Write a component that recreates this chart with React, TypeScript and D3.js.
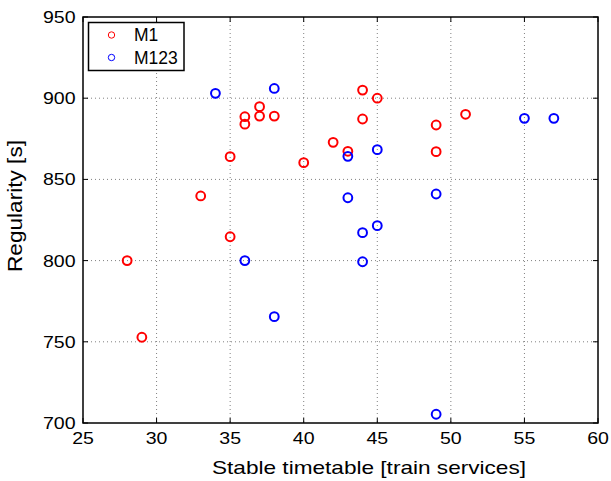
import React from "react";
import * as d3 from "d3";

const m1X = [28, 29, 33, 35, 35, 36, 36, 37, 37, 38, 40, 42, 43, 44, 44, 45, 49, 49, 51];
const m1Y = [800, 752.8, 839.8, 864, 814.7, 888.6, 884, 894.8, 889, 889, 860.3, 872.8, 867.3, 905, 887.2, 900, 883.5, 867.1, 890.1];
const m123X = [34, 38, 36, 38, 43, 43, 44, 44, 45, 45, 49, 49, 55, 57];
const m123Y = [903, 906, 800, 765.5, 864.2, 838.7, 817.2, 799.3, 868.3, 821.5, 841, 705.4, 887.6, 887.6];
const xTicks = [25, 30, 35, 40, 45, 50, 55, 60];
const yTicks = [700, 750, 800, 850, 900, 950];
const seriesNames = ["M1", "M123"];
const seriesColors = ["#ff0000", "#0000ff"];

const W = 611, H = 481;
const L = 83, R = 598, T = 17, B = 423;
const FONT = "'Liberation Sans', Arial, Helvetica, sans-serif";
const SX = 1.15;

export default function App() {
  const x = d3.scaleLinear().domain([25, 60]).range([L, R]);
  const y = d3.scaleLinear().domain([700, 950]).range([B, T]);
  const series = [
    { name: seriesNames[0], color: seriesColors[0], pts: m1X.map((v, i) => [v, m1Y[i]]) },
    { name: seriesNames[1], color: seriesColors[1], pts: m123X.map((v, i) => [v, m123Y[i]]) },
  ];
  const tl = 5;
  return (
    <svg width={W} height={H} style={{ position: "absolute", left: 0, top: 0, background: "#fff" }}>
      <rect x={0} y={0} width={W} height={H} fill="#fff" />
      {/* grid */}
      {xTicks.slice(1, -1).map((t) => (
        <line key={"gx" + t} x1={x(t)} x2={x(t)} y1={T} y2={B} stroke="#808080" strokeWidth={1} strokeDasharray="1,3" />
      ))}
      {yTicks.slice(1, -1).map((t) => (
        <line key={"gy" + t} x1={L} x2={R} y1={y(t)} y2={y(t)} stroke="#808080" strokeWidth={1} strokeDasharray="1,3" />
      ))}
      {/* ticks */}
      {xTicks.map((t) => (
        <g key={"tx" + t}>
          <line x1={x(t)} x2={x(t)} y1={B} y2={B - tl} stroke="#000" strokeWidth={1} />
          <line x1={x(t)} x2={x(t)} y1={T} y2={T + tl} stroke="#000" strokeWidth={1} />
          <text transform={`translate(${x(t)},444) scale(${SX},1)`} textAnchor="middle" fontFamily={FONT} fontSize={17} fill="#000">{t}</text>
        </g>
      ))}
      {yTicks.map((t) => (
        <g key={"ty" + t}>
          <line x1={L} x2={L + tl} y1={y(t)} y2={y(t)} stroke="#000" strokeWidth={1} />
          <line x1={R} x2={R - tl} y1={y(t)} y2={y(t)} stroke="#000" strokeWidth={1} />
          <text transform={`translate(75.5,${y(t) + 6}) scale(${SX},1)`} textAnchor="end" fontFamily={FONT} fontSize={17} fill="#000">{t}</text>
        </g>
      ))}
      {/* points */}
      {series.map((s) =>
        s.pts.map((p, i) => (
          <circle key={s.name + i} cx={x(p[0])} cy={y(p[1])} r={4.4} fill="none" stroke={s.color} strokeWidth={2} />
        ))
      )}
      {/* axes box */}
      <rect x={L} y={T} width={R - L} height={B - T} fill="none" stroke="#000" strokeWidth={1.5} />
      {/* legend */}
      <rect x={88.5} y={22.5} width={95.5} height={48} fill="#fff" stroke="#000" strokeWidth={1.5} />
      {series.map((s, i) => (
        <g key={"lg" + s.name}>
          <circle cx={111.5} cy={35 + i * 22.5} r={3.2} fill="none" stroke={s.color} strokeWidth={1} />
          <text x={134} y={35 + i * 22.5 + 6} fontFamily={FONT} fontSize={17.5} fill="#000">{s.name}</text>
        </g>
      ))}
      {/* axis labels */}
      <text x={212} y={474} textLength={314} lengthAdjust="spacingAndGlyphs" fontFamily={FONT} fontSize={19} fill="#000">
        Stable timetable [train services]
      </text>
      <text transform="translate(21.5,272) rotate(-90)" textLength={132} lengthAdjust="spacingAndGlyphs" fontFamily={FONT} fontSize={19.5} fill="#000">
        Regularity [s]
      </text>
    </svg>
  );
}
